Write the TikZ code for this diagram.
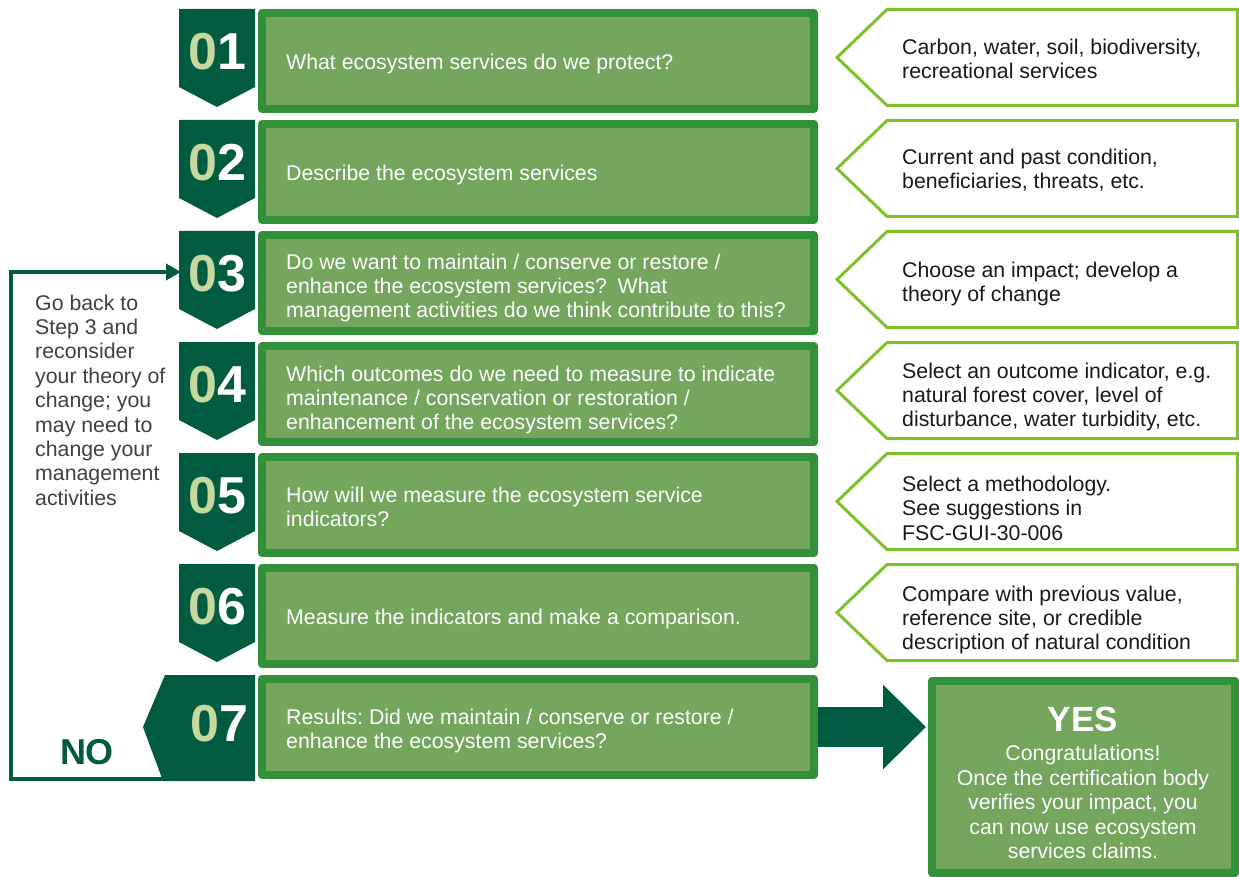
\documentclass[tikz,border=0pt]{standalone}
\usepackage{fontspec}
\setmainfont{Liberation Sans}
\frenchspacing
\usetikzlibrary{arrows.meta}
\definecolor{fscdark}{RGB}{0,91,65}
\definecolor{boxline}{RGB}{50,144,56}
\definecolor{boxfill}{RGB}{116,166,93}
\definecolor{hintline}{RGB}{125,194,42}
\definecolor{digitpale}{RGB}{197,216,158}
\definecolor{notegray}{RGB}{64,64,64}
\tikzset{
    stepbox/.style={
        draw=boxline,
        fill=boxfill,
        line width=8pt,
        line join=round,
        anchor=north west,
        inner sep=0,
        minimum width=552pt,
        minimum height=96pt,
    },
    yesbox/.style={
        stepbox,
        minimum width=303pt,
        minimum height=192pt,
    },
    steptext/.style={
        anchor=west,
        align=left,
        inner sep=0,
        text=white,
        font=\fontsize{21.3}{24.4}\selectfont,
    },
    hinttext/.style={
        steptext,
        text=black!90,
    },
    marker/.style={
        fill=fscdark,
    },
    digits/.style={
        inner sep=0,
        text=white,
        font=\bfseries\fontsize{52}{52}\selectfont,
    },
    hint/.style={
        draw=hintline,
        fill=white,
        line width=3pt,
    },
    loopline/.style={
        draw=fscdark,
        line width=4pt,
        -{Triangle[length=15pt,width=16pt]},
    },
    bigarrow/.style={
        draw=fscdark,
        line width=40pt,
        -{Triangle[length=43pt,width=82pt]},
        shorten >=2pt,
    },
}

\begin{document}
\begin{tikzpicture}[x=1pt, y=-1pt]
            \useasboundingbox (0, 0) rectangle (1239, 877) ;

            \coordinate (m3) at (181, 272) ;
            \coordinate (lb) at (11, 779) ;
            \coordinate (lt) at (11, 272) ;
            \coordinate (m7) at (163, 779) ;
            \draw[loopline] (m7) -- (lb) -- (lt) -- (m3) ;

            \fill[marker] (179, 9) -- (255, 9) -- (255, 87) -- (217, 107) -- (179, 87) -- cycle ;
            \fill[marker] (179, 120) -- (255, 120) -- (255, 198) -- (217, 218) -- (179, 198) -- cycle ;
            \fill[marker] (179, 231) -- (255, 231) -- (255, 309) -- (217, 329) -- (179, 309) -- cycle ;
            \fill[marker] (179, 342) -- (255, 342) -- (255, 420) -- (217, 440) -- (179, 420) -- cycle ;
            \fill[marker] (179, 453) -- (255, 453) -- (255, 531) -- (217, 551) -- (179, 531) -- cycle ;
            \fill[marker] (179, 564) -- (255, 564) -- (255, 642) -- (217, 662) -- (179, 642) -- cycle ;
            \fill[marker] (165, 675) -- (255, 675) -- (255, 781) -- (163, 781) -- (143, 727) -- cycle ;

            \node[digits] at (217, 52) (d1) {{\color{digitpale}0}1} ;
            \node[digits] at (217, 163) (d2) {{\color{digitpale}0}2} ;
            \node[digits] at (217, 274) (d3) {{\color{digitpale}0}3} ;
            \node[digits] at (217, 385) (d4) {{\color{digitpale}0}4} ;
            \node[digits] at (217, 496) (d5) {{\color{digitpale}0}5} ;
            \node[digits] at (217, 607) (d6) {{\color{digitpale}0}6} ;
            \node[digits] at (219, 724) (d7) {{\color{digitpale}0}7} ;

            \node[stepbox] at (258, 9) (s1) {} ;
            \node[stepbox] at (258, 120) (s2) {} ;
            \node[stepbox] at (258, 231) (s3) {} ;
            \node[stepbox] at (258, 342) (s4) {} ;
            \node[stepbox] at (258, 453) (s5) {} ;
            \node[stepbox] at (258, 564) (s6) {} ;
            \node[stepbox] at (258, 675) (s7) {} ;

            \node[steptext] at (286, 64) (q1) {What ecosystem services do we protect?} ;
            \node[steptext] at (286, 175) (q2) {Describe the ecosystem services} ;
            \node[steptext] at (286, 288) (q3) {Do we want to maintain / conserve or restore /\\enhance the ecosystem services?\enspace What\\management activities do we think contribute to this?} ;
            \node[steptext] at (286, 400) (q4) {Which outcomes do we need to measure to indicate\\maintenance / conservation or restoration /\\enhancement of the ecosystem services?} ;
            \node[steptext] at (286, 507) (q5) {How will we measure the ecosystem service\\indicators?} ;
            \node[steptext] at (286, 619) (q6) {Measure the indicators and make a comparison.} ;
            \node[steptext] at (286, 731) (q7) {Results: Did we maintain / conserve or restore /\\enhance the ecosystem services?} ;

            \draw[hint] (837, 57.5) -- (887, 9.5) -- (1237.5, 9.5) -- (1237.5, 105.5) -- (887, 105.5) -- cycle ;
            \draw[hint] (837, 168.5) -- (887, 120.5) -- (1237.5, 120.5) -- (1237.5, 216.5) -- (887, 216.5) -- cycle ;
            \draw[hint] (837, 279.5) -- (887, 231.5) -- (1237.5, 231.5) -- (1237.5, 327.5) -- (887, 327.5) -- cycle ;
            \draw[hint] (837, 390.5) -- (887, 342.5) -- (1237.5, 342.5) -- (1237.5, 438.5) -- (887, 438.5) -- cycle ;
            \draw[hint] (837, 501.5) -- (887, 453.5) -- (1237.5, 453.5) -- (1237.5, 549.5) -- (887, 549.5) -- cycle ;
            \draw[hint] (837, 612.5) -- (887, 564.5) -- (1237.5, 564.5) -- (1237.5, 660.5) -- (887, 660.5) -- cycle ;

            \node[hinttext] at (902, 59) (h1) {Carbon, water, soil, biodiversity,\\recreational services} ;
            \node[hinttext] at (902, 170) (h2) {Current and past condition,\\beneficiaries, threats, etc.} ;
            \node[hinttext] at (902, 284) (h3) {Choose an impact; develop a\\theory of change} ;
            \node[hinttext] at (902, 397) (h4) {Select an outcome indicator, e.g.\\natural forest cover, level of\\disturbance, water turbidity, etc.} ;
            \node[hinttext] at (902, 508) (h5) {Select a methodology.\\See suggestions in\\FSC-GUI-30-006} ;
            \node[hinttext] at (902, 620) (h6) {Compare with previous value,\\reference site, or credible\\description of natural condition} ;

            \node[yesbox] at (928, 677) (yes) {} ;
            \draw[bigarrow] (s7.east) -- (s7.east -| yes.west) ;
            \node[text=white, font=\bfseries\fontsize{35}{35}\selectfont, inner sep=0] at (1083, 719) (yesword) {YES} ;
            \node[steptext, anchor=center, align=center] at (1083, 802) (yesnote) {Congratulations!\\Once the certification body\\verifies your impact, you\\can now use ecosystem\\services claims.} ;

            \node[text=fscdark, font=\bfseries\fontsize{36}{36}\selectfont, inner sep=0] at (87, 752) (no) {NO} ;
            \node[steptext, text=notegray] at (35, 400) (back) {Go back to\\Step 3 and\\reconsider\\your theory of\\change; you\\may need to\\change your\\management\\activities} ;
\end{tikzpicture}
\end{document}
